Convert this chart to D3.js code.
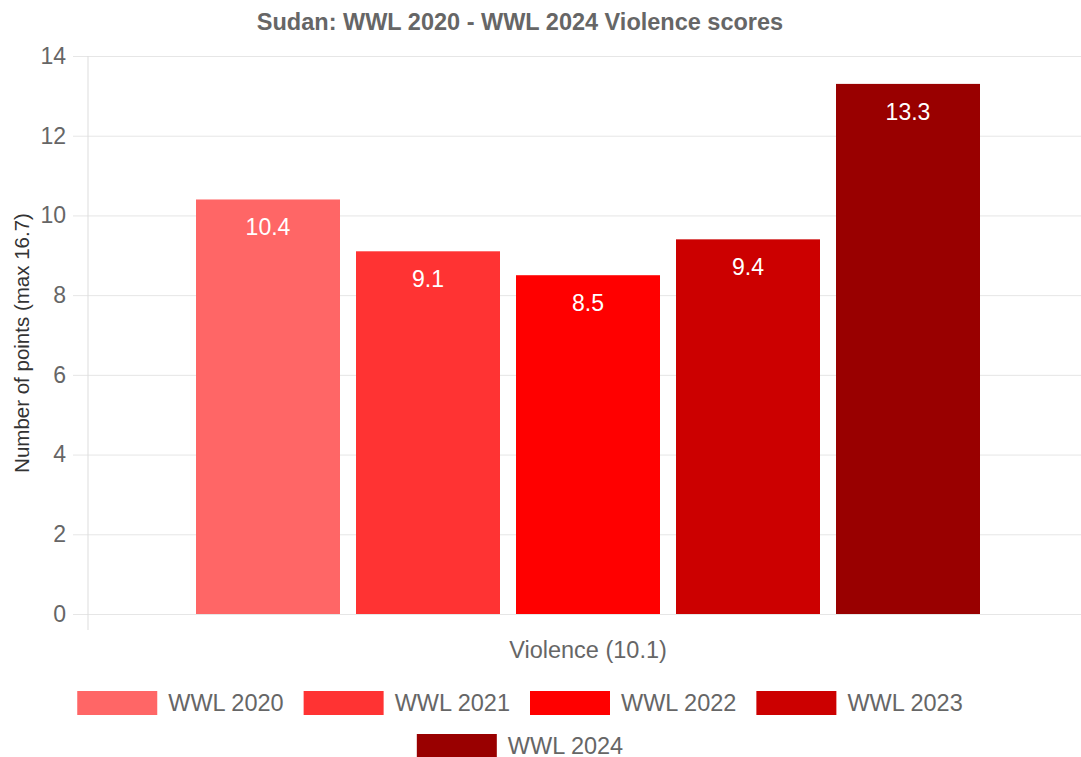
<!DOCTYPE html>
<html>
<head>
<meta charset="utf-8">
<script src="https://cdn.jsdelivr.net/npm/d3@7"></script>
<style>
    body { margin: 0; background: #fff; }
    svg { display: block; font-family: "Liberation Sans", Arial, Helvetica, sans-serif; }
</style>
</head>
<body>
<div id="chart"></div>
<script>
// data
var categories = ['Violence (10.1)'];
var seriesNames = ['WWL 2020', 'WWL 2021', 'WWL 2022', 'WWL 2023', 'WWL 2024'];
var seriesValues = [10.4, 9.1, 8.5, 9.4, 13.3];
var seriesColor = ['#ff6666', '#ff3333', '#ff0000', '#cc0000', '#990000'];
var yTicks = [0, 2, 4, 6, 8, 10, 12, 14];
var titleText = 'Sudan: WWL 2020 - WWL 2024 Violence scores';
var yTitle = 'Number of points (max 16.7)';

var width = 1081,
    height = 757;
// plot area (right side runs past the window, like the reference)
var plotL = 88, plotR = 1088, plotT = 56, plotB = 614;
var centerX = 520;

var svg = d3.select('#chart').append('svg')
    .attr('width', width)
    .attr('height', height);

// scales
var y = d3.scaleLinear().domain([0, 14]).range([plotB, plotT]);
var x0 = d3.scaleBand().domain(categories).range([plotL, plotR]).padding(0);
var x1 = d3.scaleBand().domain(seriesNames)
    .range([x0.bandwidth() * 0.1, x0.bandwidth() * 0.9])
    .paddingInner(0.1)
    .paddingOuter(0.05);

// title
svg.append('text')
    .attr('x', centerX)
    .attr('y', 30)
    .attr('text-anchor', 'middle')
    .style('font-size', '23.5px')
    .style('font-weight', 'bold')
    .style('fill', '#666')
    .text(titleText);

// grid lines + y axis
var yAxis = d3.axisLeft(y)
    .tickValues(yTicks)
    .tickSize(0)
    .tickFormat(d3.format('d'));
var yG = svg.append('g')
    .attr('transform', 'translate(' + (plotL - 15) + ',0)')
    .call(yAxis);
yG.select('.domain').remove();
yG.selectAll('.tick line')
    .attr('x1', 0)
    .attr('x2', plotR - plotL + 15)
    .style('stroke', '#e6e6e6');
yG.selectAll('.tick text')
    .attr('x', -7)
    .style('font-size', '23px')
    .style('fill', '#666')
    .style('font-family', '"Liberation Sans", Arial, sans-serif');

// vertical axis line
svg.append('line')
    .attr('x1', plotL).attr('x2', plotL)
    .attr('y1', plotT).attr('y2', plotB + 16)
    .style('stroke', '#ddd');

// y title
svg.append('text')
    .attr('transform', 'translate(29,' + ((plotT + plotB) / 2 + 8) + ') rotate(-90)')
    .attr('text-anchor', 'middle')
    .style('font-size', '20.5px')
    .style('fill', '#333')
    .text(yTitle);

// x axis label
var xAxis = d3.axisBottom(x0).tickSize(0).tickPadding(24);
var xG = svg.append('g')
    .attr('transform', 'translate(0,' + plotB + ')')
    .call(xAxis);
xG.select('.domain').remove();
xG.selectAll('text')
    .style('font-size', '23.5px')
    .style('fill', '#666')
    .style('font-family', '"Liberation Sans", Arial, sans-serif')
    .attr('dy', '0.85em');

// bars
var groups = svg.selectAll('.cat')
    .data(categories)
    .enter()
    .append('g')
    .attr('class', 'cat')
    .attr('transform', function(d) {
        return 'translate(' + x0(d) + ',0)';
    });

var barData = seriesNames.map(function(name, i) {
    return { name: name, value: seriesValues[i], color: seriesColor[i] };
});

groups.selectAll('rect')
    .data(barData)
    .enter()
    .append('rect')
    .attr('x', function(d) { return x1(d.name); })
    .attr('y', function(d) { return y(d.value); })
    .attr('width', x1.bandwidth())
    .attr('height', function(d) { return y(0) - y(d.value); })
    .attr('fill', function(d) { return d.color; });

groups.selectAll('.val')
    .data(barData)
    .enter()
    .append('text')
    .attr('class', 'val')
    .attr('x', function(d) { return x1(d.name) + x1.bandwidth() / 2; })
    .attr('y', function(d) { return y(d.value) + 36; })
    .attr('text-anchor', 'middle')
    .style('font-size', '23px')
    .style('fill', '#fff')
    .text(function(d) { return d.value.toFixed(1); });

// legend, wrapped in rows and centered
var boxW = 80, boxH = 24, textGap = 11, itemGap = 20, maxRow = 1000;
var legend = svg.append('g').attr('class', 'legend');
var items = legend.selectAll('g')
    .data(barData)
    .enter()
    .append('g');
items.append('rect')
    .attr('width', boxW)
    .attr('height', boxH)
    .attr('fill', function(d) { return d.color; });
items.append('text')
    .attr('x', boxW + textGap)
    .attr('y', boxH / 2)
    .attr('dy', '0.35em')
    .style('font-size', '23.5px')
    .style('fill', '#666')
    .text(function(d) { return d.name; });

var rows = [[]], rowW = [0];
items.each(function(d) {
    var w = boxW + textGap + this.querySelector('text').getComputedTextLength();
    var r = rows.length - 1;
    var need = rows[r].length ? rowW[r] + itemGap + w : w;
    if (need > maxRow && rows[r].length) {
        rows.push([]);
        rowW.push(0);
        r++;
        need = w;
    }
    rows[r].push({ node: this, w: w });
    rowW[r] = need;
});
rows.forEach(function(row, r) {
    var cx = centerX - rowW[r] / 2;
    row.forEach(function(it) {
        d3.select(it.node).attr('transform', 'translate(' + cx + ',' + (691 + r * 43) + ')');
        cx += it.w + itemGap;
    });
});
</script>
</body>
</html>
